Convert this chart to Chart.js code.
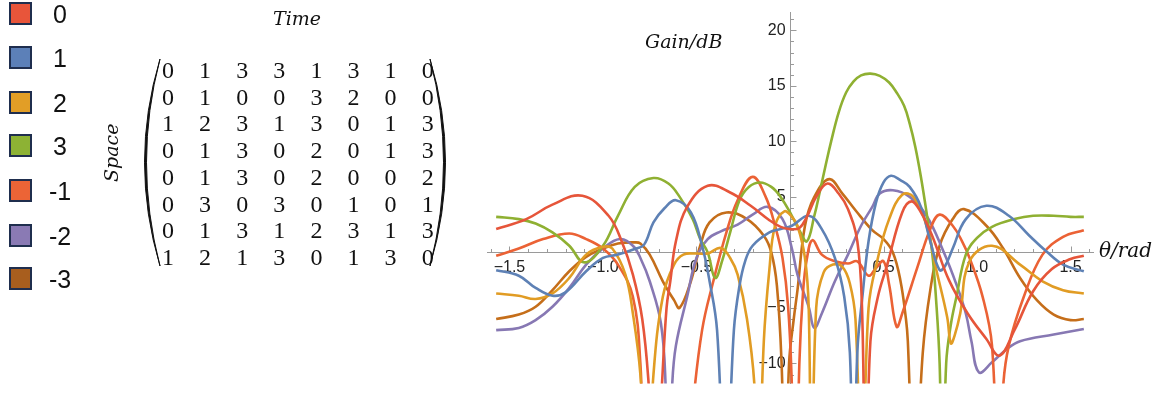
<!DOCTYPE html>
<html>
<head>
<meta charset="utf-8">
<script src="https://cdn.jsdelivr.net/npm/chart.js@4"></script>
<style>
  html, body { margin: 0; padding: 0; background: #fff; }
  body { width: 1165px; height: 396px; position: relative; overflow: hidden; font-family: "Liberation Sans", Arial, sans-serif; }
  #plot { position: absolute; left: 0; top: 0; }
  .key { position: absolute; left: 9px; width: 19px; height: 19px; border: 2.5px solid #1f2e4e; }
  .keyText { position: absolute; left: 40px; width: 40px; text-align: center; font-size: 25px; line-height: 26px; color: #111; }
  .cell { position: absolute; width: 30px; margin-left: -15px; text-align: center; font-family: "Liberation Serif", serif; font-size: 24px; line-height: 26px; color: #111; }
  .math { position: absolute; font-family: "DejaVu Serif", serif; font-style: italic; color: #111; white-space: nowrap; }
</style>
</head>
<body>
<canvas id="plot" width="1165" height="396"></canvas>
<div id="legend"></div>
<div id="matrix"></div>
<svg style="position:absolute;left:0;top:0" width="1165" height="396">
  <path d="M160,59 Q129,162 160,266 Q133,162 160,59 Z" fill="#111" stroke="#111" stroke-width="1"/>
  <path d="M430,59 Q461,162 430,266 Q457,162 430,59 Z" fill="#111" stroke="#111" stroke-width="1"/>
</svg>
<div class="math" style="left:273px;top:7px;font-size:19px;">Time</div>
<div class="math" style="left:83px;top:141px;font-size:19px;transform:rotate(-90deg);transform-origin:29px 12px;width:58px;">Space</div>
<div class="math" style="left:645px;top:30px;font-size:19px;">Gain/dB</div>
<div class="math" style="left:1099px;top:238px;font-size:20px;">θ/rad</div>
<script>
// legend names and colours
const seriesNames = ["0", "1", "2", "3", "-1", "-2", "-3"];
const lineColors = ["#e6553a", "#5e81b5", "#e19c24", "#8fb032", "#eb6235", "#8778b3", "#c56e1a"];
const keyColors = ["#e8553a", "#5c80b8", "#e29e26", "#8db234", "#ec6436", "#8a7ab4", "#a85e1e"];

// space-time coding matrix
const codeMatrix = [
  [0, 1, 3, 3, 1, 3, 1, 0],
  [0, 1, 0, 0, 3, 2, 0, 0],
  [1, 2, 3, 1, 3, 0, 1, 3],
  [0, 1, 3, 0, 2, 0, 1, 3],
  [0, 1, 3, 0, 2, 0, 0, 2],
  [0, 3, 0, 3, 0, 1, 0, 1],
  [0, 1, 3, 1, 2, 3, 1, 3],
  [1, 2, 1, 3, 0, 1, 3, 0]
];

// gain curves (theta in rad, gain in dB)
const theta0 = [-1.571, -1.41, -1.27, -1.11, -0.97, -0.90, -0.84, -0.79, -0.755, -0.72, -0.685, -0.66, -0.64, -0.61, -0.55, -0.44, -0.32, -0.21, -0.11, -0.05, 0.00, 0.05, 0.09, 0.14, 0.20, 0.26, 0.31, 0.36, 0.385, 0.405, 0.43, 0.47, 0.52, 0.60, 0.65, 0.70, 0.76, 0.85, 0.95, 1.05, 1.12, 1.20, 1.30, 1.40, 1.50, 1.571];
const gain0 = [2.1, 3.0, 4.3, 5.1, 3.3, 1.0, -2.0, -6.0, -12, -22, -12, -5, -2.6, 1.0, 4.1, 6.0, 5.4, 4.2, 2.9, 2.3, 2.1, 2.2, 3.2, 5.0, 6.2, 5.3, 3.9, 1.0, -5, -22, -8, -4, -1.1, 3.6, 4.6, 3.6, 1.5, -2.5, -5.5, -7.8, -9.3, -7.0, -3.5, -1.5, -0.6, -0.3];

const theta1 = [-1.571, -1.45, -1.36, -1.27, -1.20, -1.09, -1.0, -0.92, -0.83, -0.78, -0.73, -0.67, -0.61, -0.53, -0.47, -0.43, -0.39, -0.345, -0.30, -0.27, -0.24, -0.20, -0.11, -0.05, 0.01, 0.10, 0.17, 0.24, 0.29, 0.32, 0.34, 0.36, 0.39, 0.42, 0.46, 0.50, 0.54, 0.59, 0.64, 0.70, 0.75, 0.80, 0.83, 0.87, 0.94, 1.05, 1.17, 1.28, 1.37, 1.46, 1.571];
const gain1 = [-1.6, -2.1, -3.2, -3.9, -3.6, -1.7, -0.5, -0.2, 0.3, 0.7, 2.7, 4.0, 4.7, 3.6, 0.6, -2.6, -7, -22, -7, -3, -0.8, 0.6, 1.8, 2.1, 2.4, 3.3, 2.1, -0.5, -4, -9, -22, -9, -3.5, 1.0, 4.5, 6.3, 6.9, 6.5, 5.9, 4.1, 1.0, -1.6, -1.2, 0.35, 3.0, 4.2, 3.3, 1.5, 0.1, -1.1, -1.7];

const theta2 = [-1.571, -1.45, -1.36, -1.27, -1.18, -1.09, -1.0, -0.95, -0.88, -0.84, -0.80, -0.765, -0.73, -0.68, -0.62, -0.57, -0.50, -0.44, -0.37, -0.32, -0.28, -0.23, -0.19, -0.17, -0.14, -0.11, -0.08, -0.03, 0.01, 0.04, 0.08, 0.10, 0.115, 0.14, 0.18, 0.23, 0.28, 0.32, 0.35, 0.385, 0.42, 0.47, 0.53, 0.60, 0.66, 0.73, 0.78, 0.84, 0.86, 0.88, 0.91, 0.96, 1.08, 1.23, 1.35, 1.46, 1.571];
const gain2 = [-3.7, -3.9, -4.2, -3.7, -2.3, -0.2, 0.5, 0.35, -2.0, -5.5, -11, -22, -11, -4, -1.1, -0.2, -0.1, -0.1, 0.4, -0.5, -2, -6, -12, -22, -8, -1.5, 2.4, 3.7, 3.2, 2.4, -0.5, -5, -22, -5, -1.8, -1.1, -1.3, -2.8, -6, -22, -5, -0.5, 3.0, 5.2, 5.0, 2.4, -1.4, -5.8, -8.2, -7.5, -5.5, -0.8, 0.6, -1.1, -2.6, -3.4, -3.7];

const theta3 = [-1.571, -1.45, -1.36, -1.27, -1.18, -1.10, -1.0, -0.92, -0.83, -0.73, -0.65, -0.59, -0.52, -0.48, -0.44, -0.40, -0.36, -0.32, -0.27, -0.22, -0.16, -0.10, -0.05, 0.01, 0.05, 0.09, 0.13, 0.16, 0.19, 0.22, 0.26, 0.30, 0.34, 0.38, 0.43, 0.48, 0.53, 0.57, 0.61, 0.64, 0.67, 0.70, 0.73, 0.76, 0.78, 0.80, 0.815, 0.835, 0.86, 0.89, 0.94, 1.0, 1.08, 1.2, 1.3, 1.41, 1.5, 1.571];
const gain3 = [3.2, 3.0, 2.6, 1.8, 0.6, -0.9, 0.6, 3.3, 5.9, 6.7, 6.2, 5.0, 3.0, 1.2, 0.0, -2.3, -0.6, 1.8, 4.7, 5.9, 6.3, 5.9, 5.0, 3.3, 2.0, 1.0, 3.3, 5.5, 7.8, 10.0, 12.6, 14.4, 15.4, 15.95, 16.1, 15.9, 15.3, 14.4, 13.2, 11.6, 9.5, 6.8, 3.6, 0.0, -4, -10, -22, -10, -6.5, -4.0, -0.2, 1.3, 2.3, 3.0, 3.3, 3.3, 3.2, 3.2];

const thetaM1 = [-1.571, -1.45, -1.32, -1.18, -1.09, -1.0, -0.92, -0.84, -0.80, -0.77, -0.65, -0.555, -0.52, -0.47, -0.41, -0.34, -0.28, -0.20, -0.13, -0.08, -0.04, -0.01, 0.01, 0.025, 0.035, 0.05, 0.07, 0.09, 0.12, 0.17, 0.24, 0.31, 0.36, 0.42, 0.46, 0.50, 0.53, 0.57, 0.60, 0.68, 0.75, 0.80, 0.87, 0.92, 0.96, 1.03, 1.08, 1.115, 1.14, 1.17, 1.25, 1.35, 1.46, 1.571];
const gainM1 = [-0.3, 0.35, 1.2, 1.7, 1.2, 0.35, -1.1, -4, -10, -22, -30, -22, -14, -7, -2.6, 1.8, 4.7, 6.8, 5.0, 2.4, -0.5, -4.9, -12, -22, -22, -10, -3.5, -0.6, 1.1, -0.2, -0.8, -1.0, -0.8, -2.1, -1.4, -0.8, -2.9, -6.7, -5.5, -1.4, 2.1, 3.4, 2.4, 1.0, -0.5, -4, -8.4, -22, -12, -8.4, -4.0, -0.2, 1.4, 2.0];

const thetaM2 = [-1.571, -1.45, -1.36, -1.27, -1.18, -1.09, -1.0, -0.91, -0.84, -0.80, -0.75, -0.69, -0.665, -0.65, -0.63, -0.61, -0.55, -0.50, -0.44, -0.37, -0.28, -0.20, -0.12, -0.04, 0.01, 0.04, 0.10, 0.13, 0.17, 0.24, 0.31, 0.38, 0.44, 0.48, 0.55, 0.64, 0.73, 0.82, 0.89, 0.94, 0.97, 1.01, 1.08, 1.16, 1.23, 1.41, 1.571];
const gainM2 = [-7.0, -6.8, -6.1, -4.9, -3.2, -1.1, 0.35, 1.2, 0.6, -0.5, -2.6, -6.4, -12, -22, -12, -8.4, -4, -0.5, 1.2, 1.9, 2.5, 3.4, 4.1, 3.0, 0.35, -2, -4.9, -6.8, -5.5, -2.6, -0.2, 2.4, 4.1, 5.3, 5.6, 5.0, 3.3, 0.1, -2.9, -5.5, -8, -10.8, -9.9, -8.7, -8.0, -7.4, -6.9];

const thetaM3 = [-1.571, -1.45, -1.36, -1.27, -1.18, -1.09, -1.0, -0.92, -0.83, -0.80, -0.75, -0.68, -0.62, -0.59, -0.53, -0.48, -0.43, -0.34, -0.23, -0.14, -0.10, -0.07, -0.045, -0.025, -0.005, 0.02, 0.04, 0.08, 0.13, 0.21, 0.28, 0.35, 0.44, 0.50, 0.55, 0.59, 0.62, 0.63, 0.665, 0.71, 0.75, 0.80, 0.87, 0.93, 1.05, 1.14, 1.23, 1.32, 1.41, 1.50, 1.571];
const gainM3 = [-6.0, -5.6, -4.9, -3.4, -1.7, -0.4, 0.35, 0.8, 0.9, 0.8, -0.2, -2.6, -4.3, -5.0, -2.6, 0.6, 2.7, 3.6, 3.0, 1.5, 0.0, -3, -10, -22, -10, -6, -3.4, 2.4, 5.0, 6.6, 5.3, 3.8, 2.0, 1.2, 0.0, -2.5, -6, -8, -22, -9, -3.4, 0.6, 3.0, 3.9, 2.4, 0.35, -2.3, -4.3, -5.6, -6.1, -6.0];

const thetaList = [theta0, theta1, theta2, theta3, thetaM1, thetaM2, thetaM3];
const gainList = [gain0, gain1, gain2, gain3, gainM1, gainM2, gainM3];

// tick labels
const xTickValues = [-1.5, -1.0, -0.5, 0.5, 1.0, 1.5];
const yTickValues = [-10, -5, 5, 10, 15, 20];

// legend (HTML)
const legendBox = document.getElementById("legend");
const keyTops = [2, 46, 91, 134, 179, 224, 267];
seriesNames.forEach((name, i) => {
  const sq = document.createElement("div");
  sq.className = "key";
  sq.style.top = keyTops[i] + "px";
  sq.style.background = keyColors[i];
  legendBox.appendChild(sq);
  const tx = document.createElement("div");
  tx.className = "keyText";
  tx.style.top = (keyTops[i] - 1) + "px";
  tx.textContent = name;
  legendBox.appendChild(tx);
});

// matrix (HTML)
const matrixBox = document.getElementById("matrix");
codeMatrix.forEach((row, r) => {
  row.forEach((v, c) => {
    const cell = document.createElement("div");
    cell.className = "cell";
    cell.style.left = (168 + c * 37.1) + "px";
    cell.style.top = (57 + r * 26.7) + "px";
    cell.textContent = v;
    matrixBox.appendChild(cell);
  });
});

function fmt(v) {
  return v.toFixed(1).replace("-", "\u2212");
}

// little tick marks like Mathematica (major + minor), drawn from the scales
const axisTicks = {
  id: "axisTicks",
  beforeDatasetsDraw(chart) {
    const { ctx, scales: { x, y } } = chart;
    const x0 = x.getPixelForValue(0);
    const y0 = Math.round(y.getPixelForValue(0)) + 0.5;
    ctx.save();
    ctx.strokeStyle = "#9a9a9a";
    ctx.lineWidth = 1;
    ctx.beginPath();
    for (let i = -16; i <= 16; i++) {
      if (i === 0) continue;
      const px = Math.round(x.getPixelForValue(i / 10)) + 0.5;
      const len = i % 5 === 0 ? 6 : 3.5;
      ctx.moveTo(px, y0);
      ctx.lineTo(px, y0 - len);
    }
    const xa = Math.round(x0) + 0.5;
    for (let j = -11; j <= 21; j++) {
      if (j === 0) continue;
      const py = Math.round(y.getPixelForValue(j)) + 0.5;
      const len = j % 5 === 0 ? 6 : 3.5;
      ctx.moveTo(xa, py);
      ctx.lineTo(xa + len, py);
    }
    ctx.stroke();
    ctx.restore();
  }
};

const datasets = seriesNames.map((name, i) => ({
  label: name,
  data: thetaList[i].map((t, k) => ({ x: t, y: gainList[i][k] })),
  borderColor: lineColors[i],
  backgroundColor: lineColors[i],
  borderWidth: 2.6,
  pointRadius: 0,
  fill: false,
  tension: 0.4
}));

new Chart(document.getElementById("plot"), {
  type: "line",
  data: { datasets },
  plugins: [axisTicks],
  options: {
    responsive: false,
    animation: false,
    devicePixelRatio: 1,
    layout: { padding: { left: 487, right: 72, top: 8, bottom: 8 } },
    plugins: { legend: { display: false }, tooltip: { enabled: false } },
    scales: {
      x: {
        type: "linear",
        min: -1.62,
        max: 1.62,
        position: { y: 0 },
        grid: { display: true, drawOnChartArea: false, drawTicks: false },
        border: { display: true, color: "#9a9a9a", width: 1 },
        afterBuildTicks: (axis) => { axis.ticks = xTickValues.map((v) => ({ value: v })); },
        ticks: {
          autoSkip: false,
          maxRotation: 0,
          padding: 6,
          color: "#222",
          font: { family: "Liberation Sans", size: 16 },
          callback: (v) => fmt(v)
        }
      },
      y: {
        type: "linear",
        min: -11.8,
        max: 21.6,
        position: { x: 0 },
        grid: { display: true, drawOnChartArea: false, drawTicks: false },
        border: { display: true, color: "#9a9a9a", width: 1 },
        afterBuildTicks: (axis) => { axis.ticks = yTickValues.map((v) => ({ value: v })); },
        ticks: {
          autoSkip: false,
          color: "#222",
          font: { family: "Liberation Sans", size: 16 },
          callback: (v) => String(v).replace("-", "\u2212") + " "
        }
      }
    }
  }
});
</script>
</body>
</html>
